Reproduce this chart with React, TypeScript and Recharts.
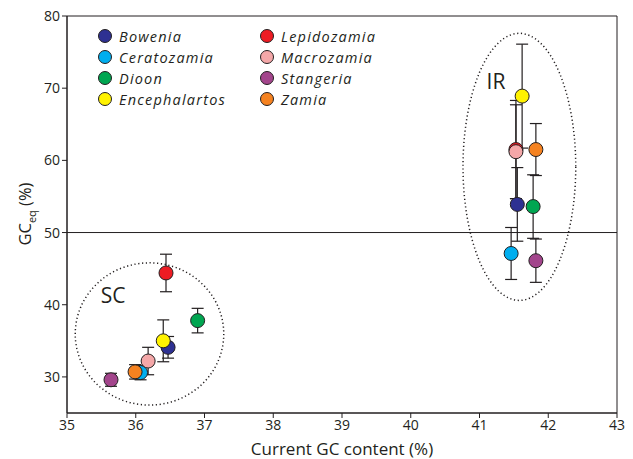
import {
  ScatterChart,
  Scatter,
  XAxis,
  YAxis,
  ErrorBar,
  ReferenceLine,
  ReferenceArea,
  ReferenceDot,
} from "recharts";

const species = ["Bowenia", "Ceratozamia", "Dioon", "Encephalartos", "Lepidozamia", "Macrozamia", "Stangeria", "Zamia"];
const colors = ["#2e3192", "#00aeef", "#00a651", "#fff200", "#ed1c24", "#f4a7a8", "#a3458c", "#f58220"];

// SC cluster
const scX = [36.47, 36.07, 36.9, 36.4, 36.44, 36.18, 35.64, 35.99];
const scY = [34.1, 30.6, 37.8, 35.0, 44.4, 32.2, 29.6, 30.7];
const scErr = [1.5, 1.0, 1.7, 2.9, 2.6, 1.9, 0.9, 1.0];

// IR cluster
const irX = [41.55, 41.46, 41.78, 41.62, 41.53, 41.53, 41.82, 41.82];
const irY = [53.9, 47.1, 53.6, 68.9, 61.5, 61.2, 46.1, 61.5];
const irErr = [5.1, 3.6, 4.4, 7.2, 6.8, 6.5, 3.0, 3.6];

const xTicks = [35, 36, 37, 38, 39, 40, 41, 42, 43];
const yTicks = [30, 40, 50, 60, 70, 80];

const ink = "#231f20";
const font = "'Open Sans', 'Noto Sans', sans-serif";
const tickStyle = { fontFamily: font, fontSize: 14, fill: ink };

const dot = (color: string) => (p: any) => (
  <circle cx={p.cx} cy={p.cy} r={7} fill={color} stroke={ink} strokeWidth={1} />
);

const ellipse = (p: any) => (
  <ellipse
    cx={p.x + p.width / 2}
    cy={p.y + p.height / 2}
    rx={p.width / 2}
    ry={p.height / 2}
    fill="none"
    stroke={ink}
    strokeWidth={1.5}
    strokeDasharray="1.2 2.6"
  />
);

function LegendBox() {
  return (
    <div
      style={{
        position: "absolute",
        left: 97,
        top: 26,
        display: "grid",
        gridTemplateColumns: "162px 150px",
        rowGap: 1,
        fontFamily: font,
        fontStyle: "italic",
        fontSize: 14.5,
        letterSpacing: 1.2,
        color: ink,
        pointerEvents: "none",
      }}
    >
      {[0, 4, 1, 5, 2, 6, 3, 7].map((i) => (
        <div key={species[i]} style={{ display: "flex", alignItems: "center", height: 20 }}>
          <svg width={16} height={16} style={{ marginRight: 6 }}>
            <circle cx={8} cy={8} r={6.5} fill={colors[i]} stroke={ink} strokeWidth={1} />
          </svg>
          {species[i]}
        </div>
      ))}
    </div>
  );
}

function YLabel() {
  return (
    <text
      x={31}
      y={214}
      transform="rotate(-90 31 214)"
      textAnchor="middle"
      fontFamily={font}
      fontSize={16.5}
      fill={ink}
    >
      GC<tspan fontSize={11} dy={5}>eq</tspan>
      <tspan dy={-5}> (%)</tspan>
    </text>
  );
}

function XLabel() {
  return (
    <text x={342} y={455} textAnchor="middle" fontFamily={font} fontSize={17} fill={ink}>
      Current GC content (%)
    </text>
  );
}

export default function App() {
  return (
    <div style={{ position: "absolute", left: 0, top: 0, width: 633, height: 459, background: "#fff" }}>
      <ScatterChart width={633} height={459} margin={{ top: 16, right: 16, bottom: 16, left: 27 }}>
        <XAxis
          type="number"
          dataKey="x"
          domain={[35, 43]}
          ticks={xTicks}
          tick={tickStyle}
          tickSize={5}
          height={30}
          stroke={ink}
          allowDataOverflow
          label={<XLabel />}
        />
        <YAxis
          type="number"
          dataKey="y"
          domain={[25, 80]}
          ticks={yTicks}
          tick={tickStyle}
          tickSize={5}
          width={40}
          stroke={ink}
          allowDataOverflow
          label={<YLabel />}
        />
        <ReferenceArea x1={35} x2={43} y1={25} y2={80} fill="none" stroke={ink} strokeWidth={1} fillOpacity={0} />
        <ReferenceLine y={50} stroke={ink} strokeWidth={1} />
        <ReferenceArea x1={35.12} x2={37.28} y1={26.1} y2={45.8} shape={ellipse} />
        <ReferenceArea x1={40.76} x2={42.4} y1={40.6} y2={77.6} shape={ellipse} />
        <ReferenceDot
          x={35.67}
          y={41.3}
          r={0}
          label={{ value: "SC", position: "center", style: { fontFamily: font, fontSize: 21, fill: ink } }}
        />
        <ReferenceDot
          x={41.24}
          y={70.9}
          r={0}
          label={{ value: "IR", position: "center", style: { fontFamily: font, fontSize: 21, fill: ink } }}
        />
        {species.map((name, i) => (
          <Scatter
            key={name}
            name={name}
            data={[
              { x: scX[i], y: scY[i], err: scErr[i] },
              { x: irX[i], y: irY[i], err: irErr[i] },
            ]}
            shape={dot(colors[i])}
            isAnimationActive={false}
          >
            <ErrorBar dataKey="err" direction="y" width={6} stroke={ink} strokeWidth={1.2} />
          </Scatter>
        ))}
      </ScatterChart>
      <LegendBox />
    </div>
  );
}
